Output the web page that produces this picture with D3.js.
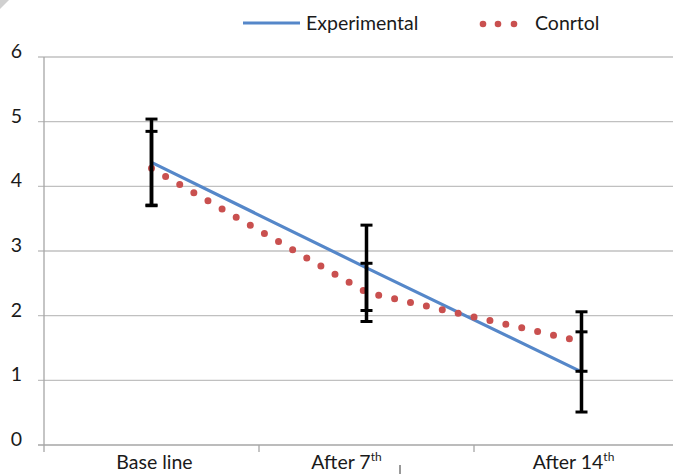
<!DOCTYPE html>
<meta charset="utf-8">
<head>
<script src="https://d3js.org/d3.v7.min.js"></script>
<style>
  body { margin: 0; background: #fff; }
  text { font-family: Lato, "Open Sans", sans-serif; fill: #1a1a1a; }
</style>
</head>
<body>
<div id="chart"></div>
<script>
// data
var categories = ["Base line", "After 7", "After 14"];
var catSup = ["", "th", "th"];
var experimental = [4.37, 2.74, 1.13];
var experimentalErr = [0.67, 0.66, 0.62];
var control = [4.28, 2.36, 1.60];
var controlErr = [0.57, 0.45, 0.46];
var yTicks = [0, 1, 2, 3, 4, 5, 6];

var width = 673, height = 474;
var plotLeft = 44, bandW = 215, plotTop = 57, plotBottom = 445;
var fs = 19.5;
// labels in the original are not exactly centred under the bands
var labelShift = [3, -20, -8];

var svg = d3.select("#chart").append("svg")
    .attr("width", width)
    .attr("height", height);

var x = d3.scaleBand()
    .domain(categories)
    .range([plotLeft, plotLeft + bandW * categories.length]);

var y = d3.scaleLinear()
    .domain([0, 6])
    .range([plotBottom, plotTop]);

// gridlines
svg.append("g").selectAll("line")
  .data(yTicks).enter().append("line")
    .attr("x1", plotLeft - 6).attr("x2", width)
    .attr("y1", function(d) { return y(d); })
    .attr("y2", function(d) { return y(d); })
    .attr("stroke", function(d) { return d === 0 ? "#a6a6a6" : "#c0c0c0"; })
    .attr("stroke-width", 1.3);

// y axis line
svg.append("line")
    .attr("x1", plotLeft).attr("x2", plotLeft)
    .attr("y1", plotTop).attr("y2", plotBottom)
    .attr("stroke", "#a6a6a6").attr("stroke-width", 1.3);

// y tick labels
svg.append("g").selectAll("text")
  .data(yTicks).enter().append("text")
    .attr("x", 22)
    .attr("y", function(d) { return y(d) + 1; })
    .attr("text-anchor", "end")
    .attr("font-size", fs)
    .text(function(d) { return d; });

// x ticks at category boundaries
svg.append("g").selectAll("line")
  .data(categories).enter().append("line")
    .attr("x1", function(d) { return x(d); })
    .attr("x2", function(d) { return x(d); })
    .attr("y1", plotBottom).attr("y2", plotBottom + 7)
    .attr("stroke", "#a6a6a6").attr("stroke-width", 1.3);

// category labels
var lab = svg.append("g").selectAll("text")
  .data(categories).enter().append("text")
    .attr("x", function(d, i) { return x(d) + x.bandwidth() / 2 + labelShift[i]; })
    .attr("y", 469)
    .attr("text-anchor", "middle")
    .attr("font-size", fs);
lab.append("tspan").text(function(d) { return d; });
lab.append("tspan")
    .attr("dy", -8)
    .attr("font-size", 12)
    .text(function(d, i) { return catSup[i]; });

// stray mark below the axis
svg.append("line")
    .attr("x1", 400).attr("x2", 400)
    .attr("y1", 465).attr("y2", 474)
    .attr("stroke", "#333").attr("stroke-width", 1);

var cx = function(d, i) { return x(categories[i]) + x.bandwidth() / 2; };

// experimental line
svg.append("path")
    .datum(experimental)
    .attr("fill", "none")
    .attr("stroke", "#5587c9")
    .attr("stroke-width", 3.2)
    .attr("d", d3.line().x(cx).y(function(d) { return y(d); }));

// control dotted line
svg.append("path")
    .datum(control)
    .attr("fill", "none")
    .attr("stroke", "#c9504f")
    .attr("stroke-width", 7)
    .attr("stroke-linecap", "round")
    .attr("stroke-dasharray", "0 16.3")
    .attr("d", d3.line().x(cx).y(function(d) { return y(d); }));

// error bars
function errBars(vals, errs) {
  var g = svg.append("g").attr("stroke", "#000");
  vals.forEach(function(v, i) {
    var px = cx(v, i);
    g.append("line")
      .attr("x1", px).attr("x2", px)
      .attr("y1", y(v + errs[i])).attr("y2", y(v - errs[i]))
      .attr("stroke-width", 3.5);
    [v + errs[i], v - errs[i]].forEach(function(e) {
      g.append("line")
        .attr("x1", px - 6).attr("x2", px + 6)
        .attr("y1", y(e)).attr("y2", y(e))
        .attr("stroke-width", 3);
    });
  });
}
errBars(experimental, experimentalErr);
errBars(control, controlErr);

// legend
svg.append("line")
    .attr("x1", 243).attr("x2", 300)
    .attr("y1", 23).attr("y2", 23)
    .attr("stroke", "#5587c9").attr("stroke-width", 3.2);
svg.append("text")
    .attr("x", 306).attr("y", 30)
    .attr("font-size", fs)
    .text("Experimental");
svg.append("g").selectAll("circle")
  .data([483, 498, 514]).enter().append("circle")
    .attr("cx", function(d) { return d; })
    .attr("cy", 24)
    .attr("r", 3.3)
    .attr("fill", "#c9504f");
svg.append("text")
    .attr("x", 535).attr("y", 30)
    .attr("font-size", fs)
    .text("Conrtol");

// corner fold
svg.append("path")
    .attr("d", "M0,0 L9,0 L0,9 Z")
    .attr("fill", "#d0d0d0");
</script>
</body>
